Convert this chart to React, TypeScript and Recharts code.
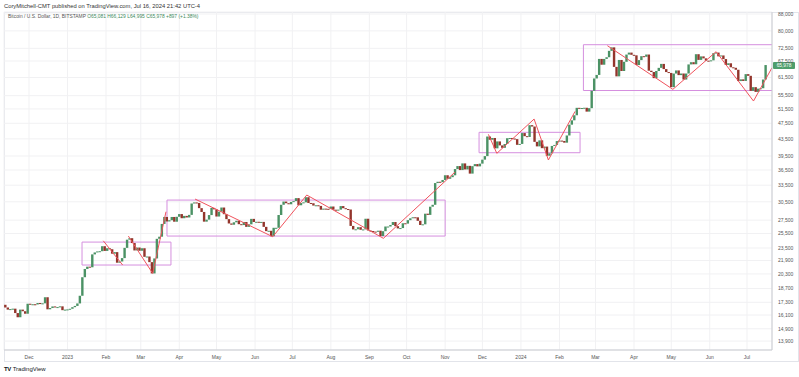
import {
  ComposedChart, Bar, XAxis, YAxis, CartesianGrid,
  ReferenceArea, ReferenceLine,
} from 'recharts';

// day index: 0 = 2022-11-01. One candle every 2 days, first at t=11 (Nov 12 2022)
const firstDay = 11;
const firstOpen = 17060;
const closes = [
  // Nov 2022
  16800, 16600, 16650, 16690, 16280, 15900, 16600, 16450, 16220, 17160,
  // Dec
  17090, 17110, 17090, 17230, 17130, 17200, 17800, 16630, 16750, 16900, 16830, 16840, 16910, 16550, 16600,
  // Jan 2023
  16620, 16680, 16830, 16950, 17190, 17950, 19930, 20880, 21150, 21080, 22670, 22920, 23050, 23080, 23740, 23120,
  // Feb
  23470, 23340, 22760, 22960, 21630, 21780, 22200, 23520, 24630, 24840, 24170, 23180, 23560, 23140,
  // Mar
  23470, 22360, 22400, 21700, 20360, 22160, 24750, 25050, 26920, 28000, 27300, 27490, 28000, 27260, 28030,
  // Apr
  28460, 27800, 28170, 27920, 28330, 30210, 30390, 30300, 29430, 28800, 27270, 27580, 28300, 29470, 29230,
  // May
  28070, 28850, 29530, 28440, 27660, 26990, 26800, 27170, 27400, 26880, 26750, 27220, 26480, 26860, 27700, 27220,
  // Jun
  27250, 27100, 27230, 26480, 25850, 25900, 25120, 26340, 26340, 28310, 29990, 30540, 30260, 30080, 30470,
  // Jul
  30620, 31140, 29910, 30290, 30410, 31300, 30300, 30250, 29860, 29910, 29800, 29170, 29350, 29320, 29280,
  // Aug
  29700, 29170, 29060, 29180, 29770, 29420, 29280, 29200, 26620, 26100, 26120, 26430, 26050, 26100, 27720, 25940,
  // Sep
  25870, 25780, 25750, 25910, 25150, 25840, 26530, 26530, 26760, 27210, 26580, 26250, 26300, 27020, 26970,
  // Oct
  27500, 27790, 27950, 27940, 27400, 26760, 26860, 28520, 28330, 29670, 29990, 33900, 34150, 34080, 34500,
  // Nov
  35430, 34730, 35050, 35420, 36690, 37310, 36480, 37880, 36610, 37360, 35760, 37290, 37730, 37250, 37830,
  // Dec
  38690, 39470, 44080, 43290, 43720, 41240, 42880, 41930, 41360, 42260, 43660, 43720, 43580, 43440, 42070, 42280,
  // Jan 2024
  44950, 44170, 43970, 47000, 46640, 42780, 41700, 43140, 41280, 41650, 39550, 40100, 41800, 42040, 42960,
  // Feb
  43080, 42990, 42580, 44340, 47130, 48300, 49700, 51830, 51650, 51780, 51850, 50730, 51730, 57050, 61170,
  // Mar
  62400, 68300, 66100, 68300, 68950, 71480, 72900, 65300, 61900, 67900, 63800, 67200, 70000, 70780, 69900,
  // Apr
  69700, 65980, 67840, 69360, 69140, 70010, 63900, 63430, 61280, 63810, 64940, 66410, 64490, 63420, 63110,
  // May
  58250, 62890, 64000, 62330, 62900, 60790, 62900, 66210, 67050, 66270, 70140, 67930, 69280, 68520, 67620, 67490,
  // Jun
  67750, 70560, 70790, 69300, 69650, 68240, 66010, 66640, 65150, 64960, 64250, 60280, 60860, 60320, 62680,
  // Jul
  62090, 57040, 58240, 56700, 57750, 57890, 60800, 65978,
];

const monthTicks = [30, 61, 92, 120, 151, 181, 212, 242, 273, 304, 334, 365, 395, 426, 457, 486, 517, 547, 578, 608];
const monthLabels = ['Dec', '2023', 'Feb', 'Mar', 'Apr', 'May', 'Jun', 'Jul', 'Aug', 'Sep', 'Oct', 'Nov', 'Dec', '2024', 'Feb', 'Mar', 'Apr', 'May', 'Jun', 'Jul'];

const priceTicks = [
  13900, 14900, 16100, 17300, 18700, 20300, 21900, 23500, 25500, 27500, 30500,
  33500, 36500, 39500, 43500, 47500, 51500, 55500, 61500, 67500, 72500, 80000, 88000,
];

// drawn ranges (t from / to, price low / high)
const boxes = [
  { x1: 72.7, x2: 144.3, lo: 21350, hi: 24300 },
  { x1: 141.1, x2: 365, lo: 25140, hi: 30800 },
  { x1: 392.3, x2: 473.6, lo: 40230, hi: 45140 },
  { x1: 476.3, x2: 660, lo: 57150, hi: 74000 },
];

// red zigzag trend lines: [t, price] points
const zigzags = [
  [[89.8, 24480], [105.4, 21350]],
  [[110, 25140], [129.6, 20370], [140.3, 28840]],
  [[163.7, 30980], [226.2, 25040], [253.6, 31690], [315.3, 24820], [373, 36080]],
  [[399.8, 44630], [406.6, 40090], [436.6, 48650], [448.1, 38610], [469.6, 50800]],
  [[495.6, 73590], [548.3, 57530], [583.1, 71140], [613.2, 53860], [628.1, 65000]],
];

const lastClose = 65978;

const UP = '#4b9265';
const DOWN = '#93352c';
const BOX = '#d58fdf';
const ZIG = '#f0525c';

const candles = closes.map((c, i) => {
  const o = i === 0 ? firstOpen : closes[i - 1];
  return { t: firstDay + 2 * i, o, c, body: [Math.min(o, c), Math.max(o, c)] };
});

const segments: { a: number[]; b: number[] }[] = [];
zigzags.forEach((pts) => {
  for (let i = 1; i < pts.length; i++) segments.push({ a: pts[i - 1], b: pts[i] });
});

function Candle(props: any) {
  const { x, y, width, height, payload } = props;
  if (x == null || y == null) return null;
  const up = payload.c >= payload.o;
  return (
    <rect x={x} y={y} width={width} height={Math.max(height, 1)}
      fill={up ? UP : DOWN} />
  );
}

function PriceTag(props: any) {
  const vb = props.viewBox;
  if (!vb) return null;
  const x = vb.x + vb.width + 1;
  return (
    <g>
      <rect x={x} y={vb.y - 3} width={22} height={7} fill="#4f9e6c" rx={1} />
      <text x={x + 11} y={vb.y + 2.2} textAnchor="middle" fontSize={4.8} fill="#fff">
        {lastClose.toLocaleString('en-US')}
      </text>
    </g>
  );
}

const fmtPrice = (v: number) => v.toLocaleString('en-US');
const fmtMonth = (v: number) => monthLabels[monthTicks.indexOf(v)] ?? '';

export default function App() {
  return (
    <div style={{
      position: 'absolute', left: 0, top: 0, width: 799, height: 377,
      background: '#fff', overflow: 'hidden',
      fontFamily: '"Liberation Sans", Arial, sans-serif',
    }}>
      <div style={{
        position: 'absolute', left: 4, top: 2, fontSize: 5.8, lineHeight: '8px',
        color: '#333', whiteSpace: 'nowrap',
      }}>
        CoryMitchell-CMT published on TradingView.com, Jul 16, 2024 21:42 UTC-4
      </div>
      <div style={{
        position: 'absolute', left: 4, top: 12, width: 795, height: 350,
        border: '1px solid #e2e4ea', boxSizing: 'border-box',
      }} />
      <div style={{ position: 'absolute', left: 0, top: 0 }}>
        <ComposedChart width={799} height={361} data={candles}
          margin={{ top: 12, right: 0, bottom: 0, left: 4 }}>
          <CartesianGrid stroke="#f1f1f3" />
          <XAxis
            dataKey="t"
            type="number"
            domain={[9.9, 628.1]}
            allowDataOverflow
            ticks={monthTicks}
            interval={0}
            tickFormatter={fmtMonth}
            tick={{ fontSize: 5, fill: '#555' }}
            tickLine={false}
            tickSize={3}
            axisLine={{ stroke: '#c8cad0' }}
            height={11}
          />
          <YAxis
            orientation="right"
            scale="log"
            domain={[13218, 89000]}
            allowDataOverflow
            ticks={priceTicks}
            interval={0}
            tickFormatter={fmtPrice}
            tick={{ fontSize: 5, fill: '#555' }}
            tickLine={false}
            tickSize={4}
            axisLine={{ stroke: '#c8cad0' }}
            width={27}
          />
          <Bar dataKey="body" barSize={2.4} isAnimationActive={false}
            shape={Candle} />
          {boxes.map((b, i) => (
            <ReferenceArea key={'b' + i} x1={b.x1} x2={b.x2} y1={b.lo} y2={b.hi}
              fill="none" fillOpacity={0} stroke={BOX} strokeWidth={1}
              strokeOpacity={1} ifOverflow="hidden" />
          ))}
          {segments.map((s, i) => (
            <ReferenceLine key={'z' + i}
              segment={[{ x: s.a[0], y: s.a[1] }, { x: s.b[0], y: s.b[1] }]}
              stroke={ZIG} strokeWidth={1} ifOverflow="hidden" />
          ))}
          <ReferenceLine y={lastClose} stroke="none" ifOverflow="visible"
            label={<PriceTag />} />
        </ComposedChart>
      </div>
      <div style={{
        position: 'absolute', left: 8, top: 14, fontSize: 4.9, lineHeight: '6px',
        color: '#555', whiteSpace: 'nowrap',
      }}>
        Bitcoin / U.S. Dollar, 1D, BITSTAMP{' '}
        <span style={{ color: '#3d8a5c' }}>
          O65,081 H66,129 L64,995 C65,978 +897 (+1.38%)
        </span>
      </div>
      <div style={{
        position: 'absolute', left: 4, top: 365, fontSize: 6, lineHeight: '8px',
        color: '#131722', whiteSpace: 'nowrap',
      }}>
        <b style={{ letterSpacing: -0.5, marginRight: 2 }}>TV</b>TradingView
      </div>
    </div>
  );
}
